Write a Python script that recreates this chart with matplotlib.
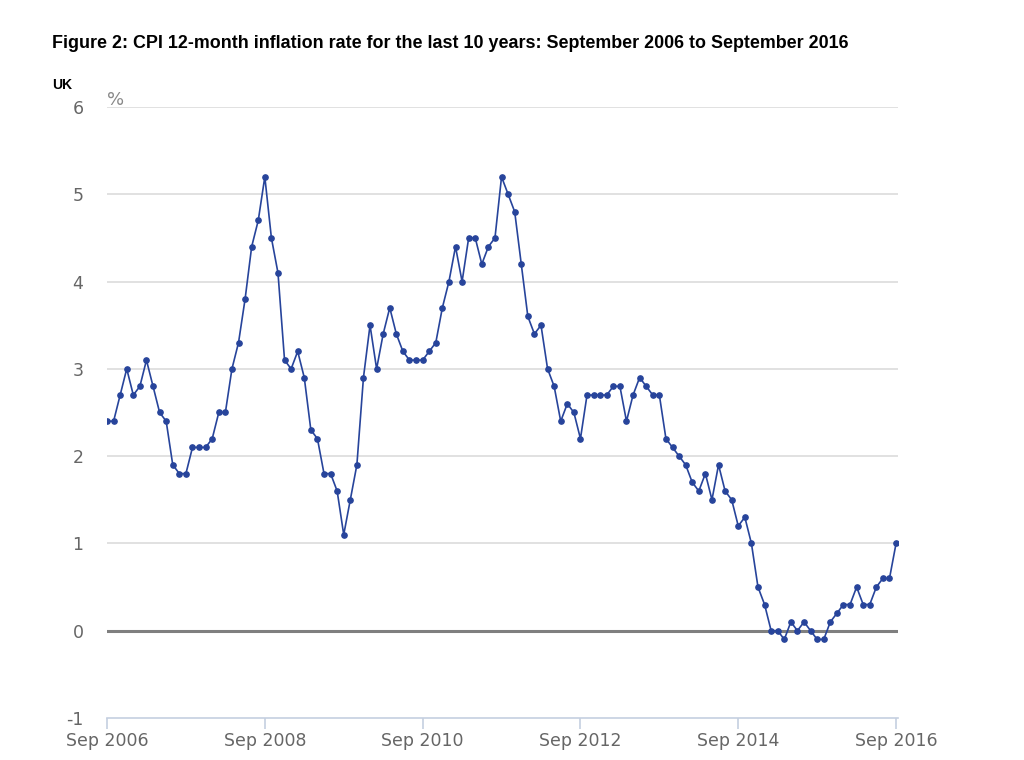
import matplotlib.pyplot as plt
import numpy as np

# UK CPI 12-month rate, Sep 2006 - Sep 2016 (monthly)
cpi_2006 = [2.4, 2.4, 2.7, 3.0]  # Sep-Dec
cpi_2007 = [2.7, 2.8, 3.1, 2.8, 2.5, 2.4, 1.9, 1.8, 1.8, 2.1, 2.1, 2.1]
cpi_2008 = [2.2, 2.5, 2.5, 3.0, 3.3, 3.8, 4.4, 4.7, 5.2, 4.5, 4.1, 3.1]
cpi_2009 = [3.0, 3.2, 2.9, 2.3, 2.2, 1.8, 1.8, 1.6, 1.1, 1.5, 1.9, 2.9]
cpi_2010 = [3.5, 3.0, 3.4, 3.7, 3.4, 3.2, 3.1, 3.1, 3.1, 3.2, 3.3, 3.7]
cpi_2011 = [4.0, 4.4, 4.0, 4.5, 4.5, 4.2, 4.4, 4.5, 5.2, 5.0, 4.8, 4.2]
cpi_2012 = [3.6, 3.4, 3.5, 3.0, 2.8, 2.4, 2.6, 2.5, 2.2, 2.7, 2.7, 2.7]
cpi_2013 = [2.7, 2.8, 2.8, 2.4, 2.7, 2.9, 2.8, 2.7, 2.7, 2.2, 2.1, 2.0]
cpi_2014 = [1.9, 1.7, 1.6, 1.8, 1.5, 1.9, 1.6, 1.5, 1.2, 1.3, 1.0, 0.5]
cpi_2015 = [0.3, 0.0, 0.0, -0.1, 0.1, 0.0, 0.1, 0.0, -0.1, -0.1, 0.1, 0.2]
cpi_2016 = [0.3, 0.3, 0.5, 0.3, 0.3, 0.5, 0.6, 0.6, 1.0]  # Jan-Sep

tick_labels = ["Sep 2006", "Sep 2008", "Sep 2010", "Sep 2012", "Sep 2014", "Sep 2016"]

cpi = (cpi_2006 + cpi_2007 + cpi_2008 + cpi_2009 + cpi_2010 + cpi_2011
       + cpi_2012 + cpi_2013 + cpi_2014 + cpi_2015 + cpi_2016)
months = np.arange(len(cpi))

plt.rcParams["axes.unicode_minus"] = False
grey = "#666666"
fig = plt.figure(figsize=(10.24, 7.6), dpi=100)
ax = fig.add_axes([0.1045, 0.0553, 0.7725, 0.8039])

for y in range(0, 7):
    ax.axhline(y, color="#d9d9d9", lw=1.1, zorder=0)
ax.axhline(0, color="#7f7f7f", lw=2.2, zorder=1)

ax.plot(months, cpi, color="#27449b", lw=1.2, marker="o", ms=3.8, zorder=3)

ax.set_xlim(0, 120.3)
ax.set_ylim(-1, 6)
ax.set_yticks(range(-1, 7))
ax.set_xticks(np.arange(0, 121, 24))
ax.set_xticklabels(tick_labels)

for s in ["top", "right", "left"]:
    ax.spines[s].set_visible(False)
ax.spines["bottom"].set_color("#c5cfe0")
ax.spines["bottom"].set_linewidth(1.2)
ax.tick_params(axis="x", colors="#c5cfe0", length=8, width=1.2, pad=2,
               labelcolor=grey, labelsize=12.5)
ax.tick_params(axis="y", length=0, pad=17, labelcolor=grey, labelsize=12.5)

ax.text(0.01, 6.08, "%", color="#888888", fontsize=13, va="center", ha="left")

fig.text(0.051, 0.943, "Figure 2: CPI 12-month inflation rate for the last 10 years: "
         "September 2006 to September 2016", fontsize=12.9, fontweight="bold",
         family="Liberation Sans", va="center")
fig.text(0.051, 0.888, "UK", fontsize=10, fontweight="bold",
         family="Liberation Sans", va="center")

fig.savefig("out.png", dpi=100)
